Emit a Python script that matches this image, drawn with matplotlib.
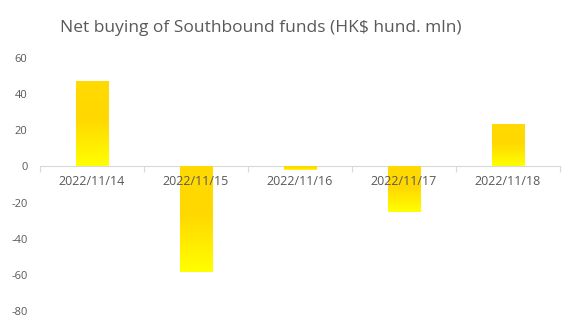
import numpy as np
import matplotlib
matplotlib.use('Agg')
import matplotlib.pyplot as plt
from matplotlib.colors import LinearSegmentedColormap

plt.rcParams['font.family'] = ['Open Sans', 'DejaVu Sans']
plt.rcParams['axes.unicode_minus'] = False

# data
dates = ['2022/11/14', '2022/11/15', '2022/11/16', '2022/11/17', '2022/11/18']
net_buying = [46.8, -58.3, -1.8, -25.2, 22.9]
y_ticks = [-80, -60, -40, -20, 0, 20, 40, 60]

title = 'Net buying of Southbound funds (HK$ hund. mln)'
grey = '#595959'

# yellow at the bottom of each bar, gold towards the top
cmap = LinearSegmentedColormap.from_list(
    'gold', [(0.0, '#FFFF00'), (0.55, '#FFD800'), (1.0, '#FFDA00')])
grad = np.linspace(1, 0, 256).reshape(-1, 1)

fig = plt.figure(figsize=(5.75, 3.26), dpi=100)
ax = fig.add_axes([0.0696, 0.046, 0.9044, 0.776])

x = np.arange(len(dates))
bars = ax.bar(x, net_buying, width=0.31, color='none', edgecolor='none')
for b in bars:
    x0 = b.get_x()
    y0 = min(b.get_y(), b.get_y() + b.get_height())
    y1 = max(b.get_y(), b.get_y() + b.get_height())
    ax.imshow(grad, cmap=cmap, extent=[x0, x0 + b.get_width(), y0, y1],
              aspect='auto', origin='upper', zorder=1, interpolation='bilinear')

ax.set_xlim(-0.5, len(dates) - 0.5)
ax.set_ylim(-80, 60)
ax.set_yticks(y_ticks)
ax.tick_params(axis='y', length=0, pad=9, labelsize=8, labelcolor=grey)

# zero line with boundary ticks, labels centred under each category
for side in ['left', 'right', 'top']:
    ax.spines[side].set_visible(False)
ax.spines['bottom'].set_position(('data', 0))
ax.spines['bottom'].set_color('#D9D9D9')
ax.spines['bottom'].set_zorder(0.5)
ax.set_xticks(np.arange(len(dates) + 1) - 0.5)
ax.set_xticklabels([])
ax.tick_params(axis='x', which='major', length=4, color='#D9D9D9', direction='out')
ax.set_xticks(x, minor=True)
ax.set_xticklabels(dates, minor=True)
ax.tick_params(axis='x', which='minor', length=0, pad=6, labelsize=9, labelcolor=grey)

fig.text(0.454, 0.915, title, ha='center', va='center', fontsize=12.5, color=grey)

fig.savefig('out.png', dpi=100, facecolor='white')
